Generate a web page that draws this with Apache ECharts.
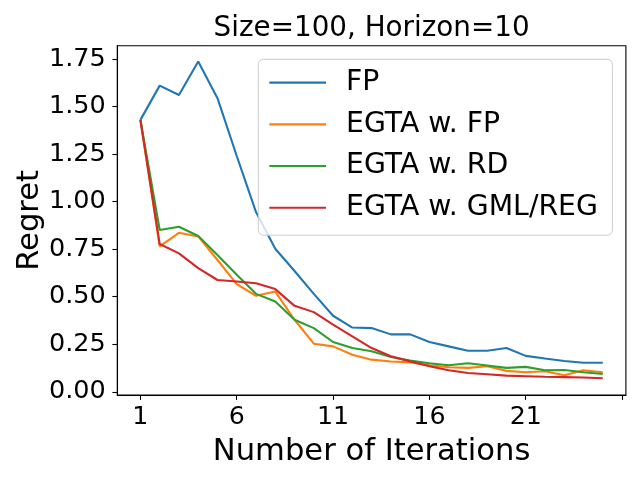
<!DOCTYPE html>
<html>
<head>
<meta charset="utf-8">
<script src="https://cdn.jsdelivr.net/npm/echarts@6/dist/echarts.min.js"></script>
<style>
html, body { margin: 0; padding: 0; background: #fff; }
#chart { width: 640px; height: 480px; }
</style>
</head>
<body>
<div id="chart"></div>
<script>
// ---- data ----
var iterations = [1,2,3,4,5,6,7,8,9,10,11,12,13,14,15,16,17,18,19,20,21,22,23,24,25];
var fp      = [1.43, 1.61, 1.561, 1.737, 1.544, 1.24, 0.945, 0.752, 0.635, 0.515, 0.40, 0.338, 0.335, 0.302, 0.302, 0.262, 0.239, 0.216, 0.216, 0.230, 0.189, 0.175, 0.162, 0.153, 0.153];
var egtaFP  = [1.43, 0.765, 0.836, 0.817, 0.693, 0.566, 0.505, 0.527, 0.379, 0.253, 0.239, 0.195, 0.169, 0.159, 0.155, 0.140, 0.129, 0.126, 0.134, 0.110, 0.103, 0.108, 0.087, 0.113, 0.103];
var egtaRD  = [1.43, 0.851, 0.868, 0.819, 0.719, 0.615, 0.515, 0.475, 0.379, 0.335, 0.262, 0.230, 0.213, 0.183, 0.164, 0.150, 0.140, 0.150, 0.138, 0.126, 0.131, 0.113, 0.115, 0.103, 0.094];
var egtaGML = [1.43, 0.777, 0.728, 0.650, 0.588, 0.580, 0.571, 0.540, 0.452, 0.419, 0.353, 0.291, 0.230, 0.187, 0.160, 0.134, 0.113, 0.099, 0.092, 0.085, 0.082, 0.079, 0.077, 0.075, 0.071];
var seriesNames = ['FP', 'EGTA w. FP', 'EGTA w. RD', 'EGTA w. GML/REG'];
var xTicks = [1, 6, 11, 16, 21, 26];
var xTickLabels = [1, 6, 11, 16, 21];
var yTicks = [0, 0.25, 0.5, 0.75, 1.0, 1.25, 1.5, 1.75];
var titleText = 'Size=100, Horizon=10';

// ---- chart ----
var colors = ['#1f77b4', '#ff7f0e', '#2ca02c', '#d62728'];
var allSeries = [fp, egtaFP, egtaRD, egtaGML];
var FONT = 'DejaVu Sans';

function pairs(vals) {
  return iterations.map(function (x, i) { return [x, vals[i]]; });
}

var chart = echarts.init(document.getElementById('chart'), null, { renderer: 'canvas' });
chart.setOption({
  animation: false,
  backgroundColor: '#fff',
  title: {
    text: titleText,
    left: 371.6,
    top: 14.5,
    padding: 0,
    textAlign: 'center',
    textStyle: { fontFamily: FONT, fontSize: 27.8, fontWeight: 'normal', color: '#000' }
  },
  grid: {
    left: 117.3, right: 14.1, top: 45.7, bottom: 85,
    show: true, borderColor: '#000', borderWidth: 1.1, backgroundColor: 'transparent'
  },
  legend: {
    orient: 'vertical',
    left: 258.3,
    top: 59.3,
    padding: [9.2, 14.5, 13.3, 11],
    itemWidth: 56.7,
    itemHeight: 2.1,
    itemGap: 13.4,
    icon: 'rect',
    backgroundColor: 'rgba(255,255,255,0.8)',
    borderColor: '#cccccc',
    borderWidth: 1,
    borderRadius: 5,
    data: seriesNames,
    textStyle: { fontFamily: FONT, fontSize: 28.3, lineHeight: 28.3, color: '#000', padding: [0, 0, 0, 15] }
  },
  xAxis: {
    type: 'value',
    min: -0.2,
    max: 26.2,
    name: 'Number of Iterations',
    nameLocation: 'middle',
    nameGap: 42,
    nameMoveOverlap: false,
    nameTextStyle: { fontFamily: FONT, fontSize: 30.6, color: '#000' },
    axisLine: { show: true, onZero: false, lineStyle: { color: '#000', width: 1.1 } },
    axisTick: { show: true, length: 4.9, customValues: xTicks, lineStyle: { color: '#000', width: 1.1 } },
    axisLabel: { margin: 10, customValues: xTickLabels, fontFamily: FONT, fontSize: 25.3, color: '#000',
      formatter: function (v) { return String(Math.round(v)); } },
    splitLine: { show: false }
  },
  yAxis: {
    type: 'value',
    min: -0.0168,
    max: 1.820,
    name: 'Regret',
    nameLocation: 'middle',
    nameRotate: 90,
    nameGap: 72,
    nameMoveOverlap: false,
    nameTextStyle: { fontFamily: FONT, fontSize: 30.6, color: '#000' },
    axisLine: { show: true, onZero: false, lineStyle: { color: '#000', width: 1.1 } },
    axisTick: { show: true, length: 4.9, customValues: yTicks, lineStyle: { color: '#000', width: 1.1 } },
    axisLabel: { margin: 11.5, customValues: yTicks, fontFamily: FONT, fontSize: 25.5, color: '#000',
      formatter: function (v) { return v.toFixed(2); } },
    splitLine: { show: false }
  },
  series: allSeries.map(function (vals, k) {
    return {
      name: seriesNames[k],
      type: 'line',
      data: pairs(vals),
      showSymbol: false,
      symbol: 'none',
      color: colors[k],
      lineStyle: { color: colors[k], width: 2.1 },
      z: 2 + k
    };
  })
});
</script>
</body>
</html>
